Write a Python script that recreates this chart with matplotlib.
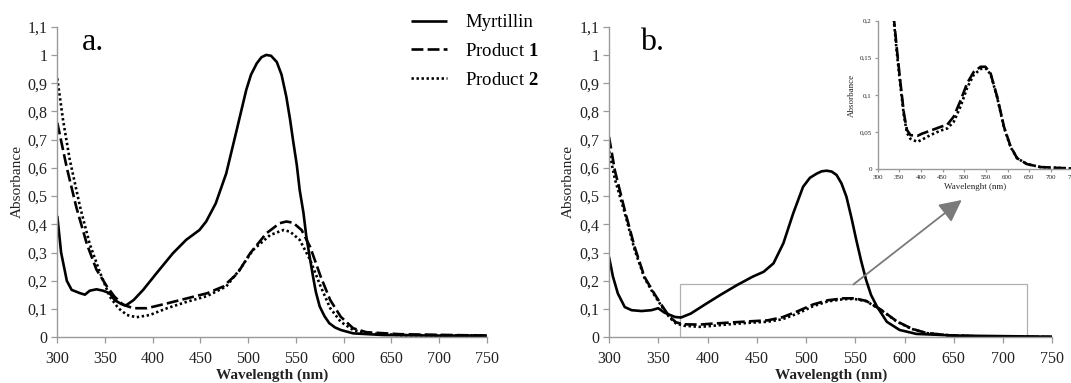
import matplotlib
matplotlib.use("Agg")
import matplotlib.pyplot as plt
from matplotlib.lines import Line2D
from matplotlib.patches import Rectangle

plt.rcParams['font.family'] = ['Liberation Serif', 'DejaVu Serif']
plt.rcParams['mathtext.fontset'] = 'custom'
plt.rcParams['mathtext.rm'] = 'Liberation Serif'
plt.rcParams['mathtext.bf'] = 'Liberation Serif:bold'

# ---------------- data ----------------
series_names = ["Myrtillin", "Product $\\mathbf{1}$", "Product $\\mathbf{2}$"]

# Panel a
a_myr_x = [300, 304, 310, 315, 324, 329, 334, 341, 348, 355, 360, 367, 372, 380, 390, 404, 421, 435,
           449, 456, 466, 477, 487, 498, 503, 509, 514, 519, 524, 530, 535, 540, 544, 547, 551, 554,
           558, 561, 565, 568, 571, 575, 580, 585, 591, 597, 610, 642, 700, 750]
a_myr_y = [0.43, 0.30, 0.20, 0.168, 0.156, 0.151, 0.165, 0.17, 0.165, 0.156, 0.132, 0.118, 0.113,
           0.132, 0.168, 0.227, 0.297, 0.345, 0.38, 0.41, 0.474, 0.58, 0.72, 0.876, 0.93, 0.97,
           0.992, 1.0, 0.997, 0.975, 0.93, 0.852, 0.77, 0.699, 0.61, 0.522, 0.44, 0.356, 0.275,
           0.215, 0.16, 0.109, 0.075, 0.05, 0.035, 0.026, 0.014, 0.008, 0.006, 0.006]

a_p1_x = [300, 305, 310, 320, 331, 341, 352, 360, 369, 380, 394, 415, 436, 457, 474, 489, 502, 519,
          533, 540, 547, 556, 565, 576, 586, 597, 610, 624, 659, 750]
a_p1_y = [0.76, 0.68, 0.60, 0.46, 0.33, 0.24, 0.18, 0.144, 0.115, 0.103, 0.103, 0.12, 0.138, 0.156,
          0.18, 0.227, 0.297, 0.368, 0.404, 0.41, 0.406, 0.38, 0.32, 0.215, 0.132, 0.073, 0.032,
          0.018, 0.011, 0.006]

a_p2_x = [300, 306, 313, 324, 334, 345, 355, 364, 373, 383, 397, 415, 436, 457, 477, 491, 505, 523,
          537, 544, 554, 565, 576, 586, 597, 610, 624, 660, 750]
a_p2_y = [0.917, 0.77, 0.63, 0.46, 0.33, 0.227, 0.144, 0.103, 0.079, 0.071, 0.079, 0.103, 0.126,
          0.146, 0.18, 0.239, 0.309, 0.362, 0.38, 0.374, 0.345, 0.274, 0.18, 0.103, 0.055, 0.026,
          0.014, 0.008, 0.006]

# Panel b
b_myr_x = [300, 304, 309, 316, 323, 333, 343, 350, 356, 362, 367, 373, 383, 396, 413, 430, 446, 457,
           467, 477, 487, 497, 504, 511, 516, 521, 526, 531, 536, 541, 546, 551, 556, 561, 566, 572,
           582, 595, 612, 653, 750]
b_myr_y = [0.285, 0.215, 0.155, 0.107, 0.096, 0.093, 0.096, 0.103, 0.088, 0.079, 0.072, 0.07, 0.084,
           0.113, 0.15, 0.185, 0.215, 0.232, 0.262, 0.333, 0.439, 0.533, 0.565, 0.58, 0.588, 0.59,
           0.587, 0.575, 0.545, 0.498, 0.425, 0.345, 0.27, 0.203, 0.15, 0.109, 0.055, 0.026, 0.012,
           0.006, 0.002]

b_prod_x = [300, 306, 316, 326, 336, 345, 353, 361, 368, 376, 392, 403, 422, 445, 461, 476, 492, 507,
            522, 538, 549, 561, 576, 592, 607, 622, 645, 676, 750]
b_p1_y = [0.71, 0.59, 0.45, 0.32, 0.214, 0.16, 0.116, 0.075, 0.053, 0.046, 0.045, 0.048, 0.052,
          0.057, 0.06, 0.071, 0.093, 0.116, 0.131, 0.138, 0.138, 0.129, 0.098, 0.057, 0.031, 0.015,
          0.007, 0.003, 0.001]
b_p2_y = [0.66, 0.56, 0.44, 0.31, 0.21, 0.155, 0.112, 0.072, 0.049, 0.041, 0.037, 0.04, 0.046,
          0.052, 0.055, 0.064, 0.085, 0.11, 0.127, 0.135, 0.136, 0.128, 0.097, 0.056, 0.03, 0.015,
          0.007, 0.003, 0.001]

x_ticks = [300, 350, 400, 450, 500, 550, 600, 650, 700, 750]
x_tick_labels = ["300", "350", "400", "450", "500", "550", "600", "650", "700", "750"]
y_ticks = [0, 0.1, 0.2, 0.3, 0.4, 0.5, 0.6, 0.7, 0.8, 0.9, 1.0, 1.1]
y_tick_labels = ["0", "0,1", "0,2", "0,3", "0,4", "0,5", "0,6", "0,7", "0,8", "0,9", "1", "1,1"]
inset_y_ticks = [0, 0.05, 0.1, 0.15, 0.2]
inset_y_tick_labels = ["0", "0,05", "0,1", "0,15", "0,2"]

# zoom box (data coords in panel b)
zoom_x = [372, 724]
zoom_y = [0, 0.187]

# ---------------- styles ----------------
W, H = 1071, 383
fig = plt.figure(figsize=(W / 100, H / 100), dpi=100)
fig.patch.set_facecolor("white")

SPINE = "#9a9a9a"
TXT = "#222222"
sty_myr = dict(color="black", lw=1.9, solid_capstyle="butt", solid_joinstyle="round")
sty_p1 = dict(color="black", lw=1.9, dashes=(4.5, 1.6))
sty_p2 = dict(color="black", lw=1.9, dashes=(0.9, 1.0))


def style_axes(ax, fs=11.5, ticklen=4, pad=3):
    for s in ("top", "right"):
        ax.spines[s].set_visible(False)
    for s in ("left", "bottom"):
        ax.spines[s].set_color(SPINE)
        ax.spines[s].set_linewidth(1.0)
    ax.tick_params(direction="out", length=ticklen, width=0.9, color=SPINE,
                   labelcolor=TXT, labelsize=fs, pad=pad)


def pos(x0, x1, ytop, ybot):
    return [x0 / W, 1 - ybot / H, (x1 - x0) / W, (ybot - ytop) / H]


# ---------------- panel a ----------------
axa = fig.add_axes(pos(57.3, 486.7, 26.7, 337.3))
axa.plot(a_myr_x, a_myr_y, **sty_myr)
axa.plot(a_p1_x, a_p1_y, **sty_p1)
axa.plot(a_p2_x, a_p2_y, **sty_p2)
axa.set_xlim(300, 750)
axa.set_ylim(0, 1.1)
axa.set_xticks(x_ticks, x_tick_labels)
axa.set_yticks(y_ticks, y_tick_labels)
style_axes(axa)
axa.tick_params(axis="x", pad=6)
axa.set_xlabel("Wavelength (nm)", fontsize=11, fontweight="bold", color=TXT, labelpad=1)
axa.set_ylabel("Absorbance", fontsize=11, color=TXT, labelpad=3)
axa.text(337, 1.045, "a.", fontsize=23, ha="center", va="center", color="black")

leg_handles = [Line2D([], [], **sty_myr), Line2D([], [], **sty_p1), Line2D([], [], **sty_p2)]
fig.legend(leg_handles, series_names, loc="upper left", bbox_to_anchor=(411 / W, 1 - 14 / H),
           frameon=False, fontsize=13.5, handlelength=1.9, handletextpad=1.0,
           labelspacing=0.62, borderpad=0, borderaxespad=0)

# ---------------- panel b ----------------
axb = fig.add_axes(pos(609, 1052.3, 26.7, 337.3))
axb.plot(b_myr_x, b_myr_y, **sty_myr)
axb.plot(b_prod_x, b_p1_y, **sty_p1)
axb.plot(b_prod_x, b_p2_y, **sty_p2)
axb.set_xlim(300, 750)
axb.set_ylim(0, 1.1)
axb.set_xticks(x_ticks, x_tick_labels)
axb.set_yticks(y_ticks, y_tick_labels)
style_axes(axb)
axb.tick_params(axis="x", pad=6)
axb.set_xlabel("Wavelength (nm)", fontsize=11, fontweight="bold", color=TXT, labelpad=1)
axb.set_ylabel("Absorbance", fontsize=11, color=TXT, labelpad=3)
axb.text(331, 1.045, "b.", fontsize=23, ha="left", va="center", color="black")

axb.add_patch(Rectangle((zoom_x[0], zoom_y[0]), zoom_x[1] - zoom_x[0], zoom_y[1] - zoom_y[0],
                        fill=False, edgecolor="#b0b0b0", lw=0.9, zorder=1))
axb.annotate("", xy=(961.7 / W, 1 - 200 / H), xycoords="figure fraction",
             xytext=(548, zoom_y[1]), textcoords="data",
             arrowprops=dict(arrowstyle="-|>,head_length=0.9,head_width=0.45", color="#7a7a7a",
                             lw=1.3, mutation_scale=15, shrinkA=0, shrinkB=0))

# ---------------- inset ----------------
axi = fig.add_axes(pos(877.5, 1072.5, 20.7, 169.3))
axi.plot(b_prod_x, b_p1_y, **sty_p1)
axi.plot(b_prod_x, b_p2_y, **sty_p2)
axi.set_xlim(300, 750)
axi.set_ylim(0, 0.2)
axi.set_xticks(x_ticks, x_tick_labels)
axi.set_yticks(inset_y_ticks, inset_y_tick_labels)
style_axes(axi, fs=5, ticklen=2, pad=2)
axi.set_xlabel("Wavelenght (nm)", fontsize=6.5, color=TXT, labelpad=2)
axi.set_ylabel("Absorbance", fontsize=6.5, color=TXT, labelpad=3)

fig.savefig("out.png", dpi=100, facecolor="white")
